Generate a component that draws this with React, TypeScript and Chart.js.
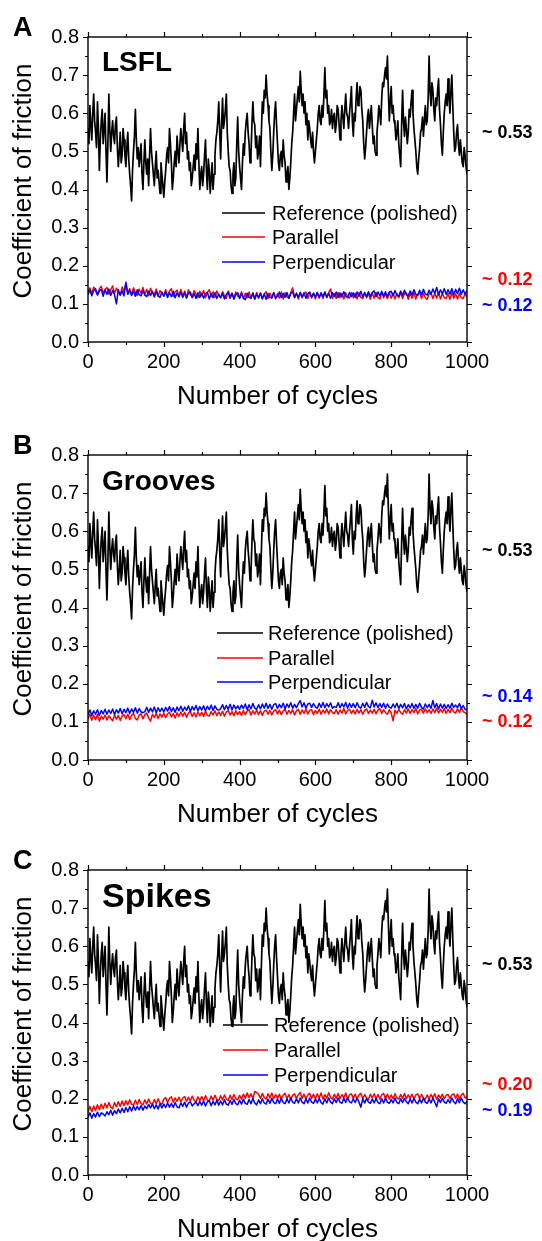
import React, { useEffect, useRef } from "react";
import { Chart, registerables } from "chart.js";
Chart.register(...registerables);

const FONT = "'Liberation Sans', Arial, Helvetica, sans-serif";
const REF_STEP = 2.5; // cycles between reference samples
const CYCLE_STEP = 5; // cycles between textured-sample values
const X_MIN = 0;
const X_MAX = 1000;
const Y_MIN = 0;
const Y_MAX = 0.8;
const SERIES_NAMES = ["Reference (polished)", "Parallel", "Perpendicular"];
const X_TITLE = "Number of cycles";
const Y_TITLE = "Coefficient of friction";

// Reference (polished) – same curve in all three panels, one value per 2.5 cycles
const REFERENCE = [
  0.56, 0.52, 0.62, 0.57, 0.53, 0.60, 0.65, 0.58, 0.55, 0.51, 0.63, 0.56, 0.45, 0.53, 0.58, 0.61, 0.52, 0.56, 0.60, 0.50,
  0.42, 0.52, 0.65, 0.56, 0.50, 0.55, 0.58, 0.54, 0.52, 0.57, 0.59, 0.51, 0.46, 0.50, 0.55, 0.47, 0.49, 0.56, 0.53, 0.49,
  0.46, 0.51, 0.55, 0.48, 0.44, 0.41, 0.37, 0.45, 0.50, 0.54, 0.61, 0.53, 0.48, 0.51, 0.46, 0.49, 0.52, 0.44, 0.40, 0.47,
  0.53, 0.47, 0.44, 0.48, 0.41, 0.49, 0.56, 0.50, 0.47, 0.44, 0.41, 0.46, 0.50, 0.43, 0.45, 0.42, 0.39, 0.47, 0.44, 0.41,
  0.38, 0.42, 0.45, 0.49, 0.51, 0.47, 0.56, 0.52, 0.47, 0.40, 0.43, 0.47, 0.50, 0.46, 0.54, 0.50, 0.47, 0.52, 0.56, 0.53,
  0.50, 0.56, 0.60, 0.52, 0.55, 0.48, 0.50, 0.45, 0.47, 0.41, 0.43, 0.46, 0.49, 0.45, 0.52, 0.48, 0.56, 0.47, 0.40, 0.44,
  0.46, 0.41, 0.44, 0.49, 0.53, 0.45, 0.40, 0.48, 0.45, 0.39, 0.43, 0.47, 0.40, 0.44, 0.49, 0.53, 0.55, 0.58, 0.63, 0.55,
  0.48, 0.57, 0.64, 0.56, 0.58, 0.61, 0.65, 0.55, 0.50, 0.46, 0.45, 0.41, 0.39, 0.44, 0.47, 0.41, 0.43, 0.52, 0.59, 0.50,
  0.46, 0.43, 0.40, 0.47, 0.52, 0.49, 0.55, 0.58, 0.60, 0.55, 0.52, 0.47, 0.49, 0.57, 0.63, 0.58, 0.57, 0.51, 0.54, 0.48,
  0.50, 0.54, 0.46, 0.55, 0.63, 0.60, 0.66, 0.64, 0.70, 0.65, 0.62, 0.58, 0.56, 0.50, 0.45, 0.49, 0.55, 0.60, 0.63, 0.57,
  0.52, 0.47, 0.45, 0.49, 0.50, 0.46, 0.53, 0.49, 0.47, 0.42, 0.44, 0.46, 0.40, 0.43, 0.47, 0.52, 0.55, 0.60, 0.65, 0.58,
  0.61, 0.64, 0.67, 0.63, 0.71, 0.66, 0.62, 0.65, 0.60, 0.63, 0.57, 0.60, 0.53, 0.58, 0.56, 0.53, 0.51, 0.55, 0.50, 0.47,
  0.50, 0.53, 0.56, 0.60, 0.62, 0.58, 0.57, 0.62, 0.59, 0.65, 0.72, 0.64, 0.66, 0.60, 0.62, 0.57, 0.58, 0.61, 0.56, 0.59,
  0.60, 0.55, 0.57, 0.62, 0.61, 0.57, 0.53, 0.58, 0.62, 0.59, 0.56, 0.61, 0.65, 0.60, 0.59, 0.56, 0.60, 0.63, 0.67, 0.58,
  0.54, 0.60, 0.58, 0.64, 0.68, 0.62, 0.63, 0.67, 0.66, 0.61, 0.58, 0.52, 0.48, 0.51, 0.55, 0.59, 0.61, 0.56, 0.59, 0.62,
  0.57, 0.52, 0.54, 0.50, 0.49, 0.55, 0.58, 0.62, 0.60, 0.57, 0.64, 0.68, 0.67, 0.70, 0.72, 0.69, 0.75, 0.66, 0.58, 0.63,
  0.67, 0.60, 0.62, 0.58, 0.57, 0.53, 0.55, 0.58, 0.52, 0.49, 0.46, 0.57, 0.66, 0.58, 0.54, 0.59, 0.56, 0.52, 0.55, 0.61,
  0.59, 0.63, 0.66, 0.60, 0.56, 0.53, 0.50, 0.46, 0.44, 0.48, 0.51, 0.55, 0.56, 0.59, 0.54, 0.58, 0.62, 0.57, 0.58, 0.64,
  0.75, 0.66, 0.62, 0.68, 0.66, 0.61, 0.58, 0.64, 0.62, 0.66, 0.69, 0.61, 0.57, 0.52, 0.49, 0.55, 0.60, 0.63, 0.65, 0.62,
  0.69, 0.64, 0.60, 0.66, 0.70, 0.62, 0.55, 0.50, 0.51, 0.55, 0.57, 0.52, 0.49, 0.53, 0.50, 0.47, 0.46, 0.51, 0.49, 0.46,
  0.44,
];

// Panel A – LSFL (one value per 5 cycles)
const PARALLEL_A = [
  0.130, 0.142, 0.126, 0.144, 0.133, 0.124, 0.140, 0.146, 0.128, 0.138,
  0.143, 0.125, 0.137, 0.147, 0.127, 0.141, 0.131, 0.123, 0.144, 0.132,
  0.152, 0.128, 0.140, 0.124, 0.142, 0.130, 0.122, 0.139, 0.127, 0.143,
  0.125, 0.138, 0.121, 0.141, 0.128, 0.124, 0.139, 0.120, 0.135, 0.127,
  0.122, 0.137, 0.120, 0.134, 0.140, 0.119, 0.131, 0.136, 0.121, 0.138,
  0.120, 0.134, 0.117, 0.137, 0.124, 0.119, 0.135, 0.126, 0.116, 0.133,
  0.121, 0.135, 0.116, 0.130, 0.137, 0.119, 0.132, 0.117, 0.134, 0.122,
  0.116, 0.132, 0.121, 0.114, 0.134, 0.119, 0.129, 0.115, 0.131, 0.120,
  0.117, 0.132, 0.113, 0.128, 0.116, 0.131, 0.114, 0.127, 0.112, 0.130,
  0.115, 0.129, 0.113, 0.126, 0.132, 0.114, 0.128, 0.117, 0.130, 0.113,
  0.127, 0.115, 0.131, 0.113, 0.129, 0.118, 0.114, 0.130, 0.142, 0.117,
  0.128, 0.113, 0.130, 0.116, 0.127, 0.131, 0.114, 0.129, 0.116, 0.128,
  0.113, 0.130, 0.116, 0.128, 0.114, 0.131, 0.117, 0.129, 0.139, 0.115,
  0.127, 0.114, 0.130, 0.116, 0.128, 0.113, 0.129, 0.118, 0.115, 0.130,
  0.116, 0.128, 0.113, 0.130, 0.117, 0.114, 0.129, 0.116, 0.127, 0.112,
  0.128, 0.115, 0.130, 0.117, 0.113, 0.129, 0.116, 0.127, 0.114, 0.130,
  0.115, 0.128, 0.113, 0.127, 0.116, 0.130, 0.114, 0.126, 0.129, 0.112,
  0.127, 0.115, 0.129, 0.113, 0.126, 0.130, 0.114, 0.128, 0.116, 0.112,
  0.126, 0.129, 0.114, 0.127, 0.115, 0.130, 0.113, 0.128, 0.116, 0.114,
  0.127, 0.112, 0.129, 0.115, 0.126, 0.113, 0.128, 0.116, 0.114, 0.127,
  0.118,
];
const PERPENDICULAR_A = [
  0.124, 0.137, 0.121, 0.135, 0.140, 0.123, 0.134, 0.138, 0.120, 0.136,
  0.125, 0.139, 0.122, 0.135, 0.124, 0.100, 0.137, 0.123, 0.134, 0.121,
  0.157, 0.125, 0.136, 0.122, 0.134, 0.120, 0.137, 0.124, 0.121, 0.135,
  0.123, 0.119, 0.134, 0.122, 0.133, 0.118, 0.132, 0.121, 0.117, 0.131,
  0.120, 0.132, 0.117, 0.130, 0.119, 0.133, 0.116, 0.129, 0.118, 0.131,
  0.117, 0.129, 0.115, 0.128, 0.131, 0.116, 0.127, 0.114, 0.129, 0.117,
  0.128, 0.115, 0.126, 0.130, 0.113, 0.127, 0.116, 0.129, 0.114, 0.126,
  0.116, 0.128, 0.113, 0.126, 0.130, 0.115, 0.127, 0.112, 0.125, 0.129,
  0.114, 0.127, 0.116, 0.111, 0.128, 0.117, 0.115, 0.129, 0.113, 0.126,
  0.116, 0.128, 0.114, 0.126, 0.112, 0.127, 0.117, 0.115, 0.129, 0.116,
  0.119, 0.131, 0.116, 0.128, 0.117, 0.130, 0.115, 0.127, 0.132, 0.116,
  0.128, 0.117, 0.130, 0.118, 0.129, 0.115, 0.127, 0.131, 0.117, 0.128,
  0.118, 0.130, 0.116, 0.129, 0.119, 0.131, 0.117, 0.128, 0.115, 0.130,
  0.119, 0.131, 0.117, 0.129, 0.118, 0.132, 0.120, 0.116, 0.130, 0.119,
  0.129, 0.117, 0.131, 0.120, 0.133, 0.118, 0.130, 0.119, 0.132, 0.120,
  0.130, 0.134, 0.119, 0.131, 0.121, 0.133, 0.120, 0.132, 0.118, 0.131,
  0.133, 0.121, 0.135, 0.123, 0.120, 0.134, 0.122, 0.136, 0.124, 0.121,
  0.134, 0.123, 0.137, 0.125, 0.122, 0.136, 0.124, 0.138, 0.126, 0.123,
  0.136, 0.125, 0.139, 0.127, 0.143, 0.124, 0.137, 0.126, 0.140, 0.125,
  0.137, 0.126, 0.140, 0.124, 0.138, 0.127, 0.141, 0.125, 0.137, 0.126,
  0.134,
];

// Panel B – Grooves
const PARALLEL_B = [
  0.108, 0.120, 0.104, 0.117, 0.106, 0.119, 0.102, 0.115, 0.107, 0.118,
  0.105, 0.116, 0.109, 0.103, 0.118, 0.107, 0.117, 0.104, 0.115, 0.119,
  0.108, 0.120, 0.106, 0.117, 0.122, 0.109, 0.105, 0.118, 0.121, 0.108,
  0.119, 0.123, 0.110, 0.102, 0.120, 0.111, 0.122, 0.109, 0.121, 0.112,
  0.123, 0.111, 0.121, 0.125, 0.113, 0.122, 0.110, 0.124, 0.114, 0.126,
  0.115, 0.125, 0.112, 0.123, 0.127, 0.114, 0.124, 0.113, 0.126, 0.116,
  0.125, 0.114, 0.128, 0.117, 0.115, 0.127, 0.118, 0.129, 0.116, 0.126,
  0.117, 0.128, 0.115, 0.126, 0.130, 0.118, 0.127, 0.116, 0.129, 0.119,
  0.127, 0.117, 0.130, 0.119, 0.128, 0.132, 0.118, 0.129, 0.120, 0.131,
  0.119, 0.129, 0.117, 0.128, 0.131, 0.120, 0.130, 0.118, 0.128, 0.132,
  0.121, 0.131, 0.119, 0.129, 0.133, 0.120, 0.130, 0.122, 0.132, 0.118,
  0.129, 0.133, 0.120, 0.131, 0.122, 0.134, 0.121, 0.130, 0.132, 0.119,
  0.130, 0.122, 0.133, 0.120, 0.131, 0.123, 0.134, 0.121, 0.132, 0.124,
  0.122, 0.132, 0.120, 0.131, 0.123, 0.135, 0.121, 0.130, 0.133, 0.122,
  0.131, 0.121, 0.133, 0.123, 0.132, 0.120, 0.130, 0.134, 0.122, 0.131,
  0.123, 0.133, 0.121, 0.131, 0.135, 0.122, 0.132, 0.124, 0.120, 0.132,
  0.123, 0.103, 0.131, 0.122, 0.133, 0.124, 0.120, 0.132, 0.123, 0.134,
  0.122, 0.132, 0.124, 0.135, 0.121, 0.131, 0.133, 0.123, 0.134, 0.124,
  0.132, 0.122, 0.134, 0.124, 0.136, 0.123, 0.133, 0.125, 0.135, 0.122,
  0.133, 0.124, 0.136, 0.126, 0.123, 0.134, 0.125, 0.137, 0.127, 0.124,
  0.120,
];
const PERPENDICULAR_B = [
  0.119, 0.131, 0.116, 0.129, 0.120, 0.132, 0.117, 0.130, 0.121, 0.133,
  0.120, 0.131, 0.122, 0.134, 0.119, 0.132, 0.123, 0.135, 0.121, 0.133,
  0.124, 0.136, 0.122, 0.134, 0.125, 0.137, 0.123, 0.135, 0.126, 0.124,
  0.127, 0.138, 0.125, 0.136, 0.126, 0.139, 0.124, 0.137, 0.127, 0.136,
  0.126, 0.138, 0.128, 0.140, 0.127, 0.137, 0.125, 0.139, 0.129, 0.141,
  0.128, 0.139, 0.130, 0.142, 0.127, 0.140, 0.131, 0.143, 0.129, 0.140,
  0.131, 0.142, 0.129, 0.141, 0.132, 0.144, 0.130, 0.142, 0.133, 0.131,
  0.134, 0.145, 0.132, 0.143, 0.133, 0.146, 0.131, 0.144, 0.134, 0.142,
  0.133, 0.144, 0.135, 0.147, 0.132, 0.145, 0.134, 0.148, 0.136, 0.133,
  0.145, 0.134, 0.147, 0.136, 0.149, 0.135, 0.146, 0.133, 0.145, 0.148,
  0.135, 0.146, 0.137, 0.149, 0.134, 0.147, 0.138, 0.150, 0.136, 0.146,
  0.137, 0.148, 0.156, 0.139, 0.150, 0.136, 0.147, 0.149, 0.138, 0.148,
  0.139, 0.136, 0.149, 0.138, 0.151, 0.137, 0.148, 0.139, 0.150, 0.136,
  0.140, 0.138, 0.150, 0.137, 0.148, 0.139, 0.151, 0.136, 0.149, 0.138,
  0.148, 0.137, 0.150, 0.139, 0.136, 0.149, 0.138, 0.151, 0.140, 0.137,
  0.157, 0.139, 0.150, 0.137, 0.148, 0.138, 0.149, 0.136, 0.147, 0.138,
  0.136, 0.147, 0.137, 0.149, 0.135, 0.146, 0.137, 0.148, 0.134, 0.145,
  0.137, 0.148, 0.135, 0.146, 0.136, 0.149, 0.138, 0.134, 0.147, 0.137,
  0.146, 0.135, 0.156, 0.137, 0.148, 0.134, 0.147, 0.136, 0.146, 0.135,
  0.145, 0.136, 0.149, 0.138, 0.144, 0.137, 0.148, 0.135, 0.143, 0.133,
  0.132,
];

// Panel C – Spikes
const PARALLEL_C = [
  0.164, 0.180, 0.166, 0.181, 0.169, 0.184, 0.171, 0.186, 0.174, 0.188,
  0.176, 0.190, 0.178, 0.174, 0.190, 0.179, 0.192, 0.180, 0.194, 0.182,
  0.195, 0.184, 0.197, 0.186, 0.183, 0.196, 0.185, 0.198, 0.187, 0.184,
  0.197, 0.186, 0.199, 0.188, 0.185, 0.198, 0.187, 0.200, 0.189, 0.186,
  0.199, 0.203, 0.190, 0.201, 0.205, 0.191, 0.202, 0.193, 0.204, 0.192,
  0.202, 0.206, 0.193, 0.204, 0.194, 0.207, 0.196, 0.192, 0.205, 0.195,
  0.206, 0.195, 0.208, 0.197, 0.194, 0.207, 0.196, 0.209, 0.198, 0.195,
  0.208, 0.197, 0.210, 0.199, 0.196, 0.209, 0.198, 0.211, 0.200, 0.197,
  0.209, 0.199, 0.212, 0.201, 0.215, 0.203, 0.213, 0.200, 0.219, 0.216,
  0.212, 0.201, 0.214, 0.203, 0.199, 0.213, 0.202, 0.215, 0.200, 0.211,
  0.201, 0.212, 0.199, 0.210, 0.214, 0.200, 0.211, 0.198, 0.209, 0.213,
  0.200, 0.211, 0.216, 0.201, 0.212, 0.199, 0.210, 0.214, 0.201, 0.212,
  0.200, 0.213, 0.202, 0.215, 0.199, 0.211, 0.201, 0.216, 0.203, 0.199,
  0.212, 0.201, 0.214, 0.200, 0.211, 0.202, 0.215, 0.199, 0.210, 0.213,
  0.201, 0.212, 0.199, 0.210, 0.214, 0.200, 0.211, 0.202, 0.198, 0.212,
  0.202, 0.213, 0.200, 0.211, 0.199, 0.210, 0.214, 0.201, 0.212, 0.199,
  0.210, 0.200, 0.213, 0.202, 0.199, 0.211, 0.201, 0.214, 0.200, 0.210,
  0.201, 0.212, 0.199, 0.210, 0.213, 0.200, 0.211, 0.202, 0.198, 0.210,
  0.200, 0.211, 0.202, 0.213, 0.199, 0.210, 0.201, 0.212, 0.200, 0.209,
  0.211, 0.200, 0.210, 0.213, 0.201, 0.212, 0.199, 0.210, 0.214, 0.202,
  0.206,
];
const PERPENDICULAR_C = [
  0.151, 0.163, 0.149, 0.161, 0.152, 0.165, 0.153, 0.163, 0.160, 0.155,
  0.166, 0.158, 0.170, 0.157, 0.169, 0.161, 0.173, 0.163, 0.175, 0.164,
  0.177, 0.166, 0.179, 0.168, 0.181, 0.170, 0.180, 0.171, 0.182, 0.170,
  0.181, 0.174, 0.185, 0.176, 0.186, 0.174, 0.184, 0.173, 0.187, 0.176,
  0.186, 0.177, 0.189, 0.178, 0.188, 0.177, 0.190, 0.179, 0.176, 0.189,
  0.180, 0.191, 0.178, 0.189, 0.192, 0.181, 0.187, 0.191, 0.182, 0.193,
  0.183, 0.194, 0.181, 0.192, 0.195, 0.182, 0.193, 0.184, 0.196, 0.183,
  0.194, 0.184, 0.197, 0.186, 0.183, 0.196, 0.185, 0.198, 0.187, 0.184,
  0.196, 0.186, 0.199, 0.188, 0.185, 0.198, 0.187, 0.200, 0.189, 0.184,
  0.197, 0.187, 0.200, 0.189, 0.186, 0.199, 0.188, 0.201, 0.190, 0.187,
  0.199, 0.188, 0.201, 0.190, 0.187, 0.200, 0.189, 0.202, 0.191, 0.188,
  0.200, 0.189, 0.202, 0.191, 0.187, 0.200, 0.189, 0.202, 0.191, 0.188,
  0.199, 0.189, 0.201, 0.190, 0.186, 0.200, 0.189, 0.202, 0.191, 0.187,
  0.200, 0.190, 0.202, 0.191, 0.188, 0.201, 0.190, 0.203, 0.192, 0.189,
  0.200, 0.190, 0.202, 0.191, 0.178, 0.200, 0.189, 0.201, 0.191, 0.188,
  0.199, 0.189, 0.201, 0.190, 0.187, 0.200, 0.189, 0.202, 0.191, 0.188,
  0.198, 0.189, 0.202, 0.190, 0.187, 0.200, 0.190, 0.201, 0.192, 0.187,
  0.200, 0.189, 0.201, 0.191, 0.187, 0.199, 0.189, 0.202, 0.191, 0.188,
  0.199, 0.189, 0.202, 0.191, 0.179, 0.200, 0.190, 0.201, 0.191, 0.188,
  0.198, 0.189, 0.202, 0.192, 0.187, 0.200, 0.190, 0.202, 0.191, 0.187,
  0.193,
];

// Approximate-value annotations on the right
const NOTE_REF = "~ 0.53";
const NOTES_A = ["~ 0.12", "~ 0.12"]; // parallel, perpendicular
const NOTES_B = ["~ 0.12", "~ 0.14"];
const NOTES_C = ["~ 0.20", "~ 0.19"];

const COLORS = ["#000000", "#ff0000", "#0000ff"];
const PLOT = { left: 88, right: 467, top: 37, bottom: 342 };
const W = 542;

type Panel = {
  top: number;
  height: number;
  letter: string;
  name: string;
  nameSize: number;
  nameBase: number;
  legendRows: number[];
  legendX: [number, number, number];
  parallel: number[];
  perpendicular: number[];
  notes: string[];
  noteY: [number, number, number]; // ref, parallel, perpendicular
};

const PANELS: Panel[] = [
  {
    top: 0, height: 418, letter: "A", name: "LSFL", nameSize: 28, nameBase: 71,
    legendRows: [213, 237, 262], legendX: [222, 265, 272],
    parallel: PARALLEL_A, perpendicular: PERPENDICULAR_A, notes: NOTES_A,
    noteY: [133, 280, 306],
  },
  {
    top: 418, height: 415, letter: "B", name: "Grooves", nameSize: 28, nameBase: 72,
    legendRows: [215, 240, 264], legendX: [217, 263, 268],
    parallel: PARALLEL_B, perpendicular: PERPENDICULAR_B, notes: NOTES_B,
    noteY: [133, 304, 279],
  },
  {
    top: 833, height: 408, letter: "C", name: "Spikes", nameSize: 34, nameBase: 74,
    legendRows: [192, 217, 242], legendX: [223, 268, 274],
    parallel: PARALLEL_C, perpendicular: PERPENDICULAR_C, notes: NOTES_C,
    noteY: [132, 252, 278],
  },
];

const toPoints = (vals: number[], step: number) => vals.map((v, i) => ({ x: i * step, y: v }));

function PanelChart({ p }: { p: Panel }) {
  const ref = useRef<HTMLCanvasElement | null>(null);
  useEffect(() => {
    if (!ref.current) return;
    const decor = {
      id: "decor",
      afterDatasetsDraw(chart: any) {
        const ctx = chart.ctx;
        const xs = chart.scales.x;
        const ys = chart.scales.y;
        const ca = chart.chartArea;
        ctx.save();
        // frame
        ctx.strokeStyle = "#000";
        ctx.lineWidth = 1.4;
        ctx.strokeRect(ca.left, ca.top, ca.right - ca.left, ca.bottom - ca.top);
        // ticks
        ctx.lineWidth = 1.2;
        ctx.beginPath();
        for (let v = X_MIN; v <= X_MAX; v += 100) {
          const px = Math.round(xs.getPixelForValue(v)) + 0.5;
          const len = v % 200 === 0 ? 5 : 3;
          ctx.moveTo(px, ca.bottom); ctx.lineTo(px, ca.bottom + len);
          ctx.moveTo(px, ca.top); ctx.lineTo(px, ca.top - len);
        }
        for (let k = 0; k <= 16; k++) {
          const v = k * 0.05;
          const py = Math.round(ys.getPixelForValue(v)) + 0.5;
          const len = k % 2 === 0 ? 5 : 3;
          ctx.moveTo(ca.left, py); ctx.lineTo(ca.left - len, py);
          ctx.moveTo(ca.right, py); ctx.lineTo(ca.right + len, py);
        }
        ctx.stroke();

        ctx.fillStyle = "#000";
        // axis titles
        ctx.font = `26px ${FONT}`;
        ctx.textAlign = "center";
        ctx.textBaseline = "alphabetic";
        ctx.fillText(X_TITLE, (ca.left + ca.right) / 2, 404);
        ctx.save();
        ctx.translate(31, 181);
        ctx.rotate(-Math.PI / 2);
        ctx.fillText(Y_TITLE, 0, 0);
        ctx.restore();

        // panel letter + name
        ctx.textAlign = "left";
        ctx.font = `bold 27px ${FONT}`;
        ctx.fillText(p.letter, 13, 36);
        ctx.font = `bold ${p.nameSize}px ${FONT}`;
        ctx.fillText(p.name, 102, p.nameBase);

        // legend
        ctx.font = `20px ${FONT}`;
        ctx.textBaseline = "middle";
        chart.data.datasets.forEach((ds: any, i: number) => {
          const y = p.legendRows[i];
          ctx.strokeStyle = ds.borderColor;
          ctx.lineWidth = 1.5;
          ctx.beginPath();
          ctx.moveTo(p.legendX[0], y);
          ctx.lineTo(p.legendX[1], y);
          ctx.stroke();
          ctx.fillStyle = "#000";
          ctx.fillText(ds.label, p.legendX[2], y + 1);
        });

        // right-hand notes
        ctx.font = `bold 18px ${FONT}`;
        const texts = [NOTE_REF, p.notes[0], p.notes[1]];
        texts.forEach((t, i) => {
          ctx.fillStyle = COLORS[i];
          ctx.fillText(t, 482, p.noteY[i]);
        });
        ctx.restore();
      },
    };
    const chart = new Chart(ref.current, {
      type: "line",
      data: {
        datasets: [
          { label: SERIES_NAMES[0], data: toPoints(REFERENCE, REF_STEP), borderColor: COLORS[0], order: 2, borderWidth: 1.7 },
          { label: SERIES_NAMES[1], data: toPoints(p.parallel, CYCLE_STEP), borderColor: COLORS[1], order: 1, borderWidth: 1.5 },
          { label: SERIES_NAMES[2], data: toPoints(p.perpendicular, CYCLE_STEP), borderColor: COLORS[2], order: 0, borderWidth: 1.5 },
        ].map((d) => ({
          ...d,
          pointRadius: 0,
          tension: 0,
          fill: false,
          borderJoinStyle: "round" as const,
        })),
      },
      options: {
        responsive: false,
        animation: false,
        events: [],
        layout: { padding: { left: 0, right: W - PLOT.right, top: PLOT.top, bottom: 0 } },
        plugins: { legend: { display: false }, tooltip: { enabled: false }, title: { display: false } },
        scales: {
          x: {
            type: "linear",
            position: "bottom",
            min: X_MIN,
            max: X_MAX,
            grid: { display: false, drawTicks: false },
            border: { display: false },
            ticks: {
              stepSize: 200,
              autoSkip: false,
              maxRotation: 0,
              padding: 8,
              color: "#000",
              font: { family: FONT, size: 20 },
              callback: (v: any) => String(v),
            },
            afterFit: (s: any) => { s.height = p.height - PLOT.bottom; },
          },
          y: {
            type: "linear",
            position: "left",
            min: Y_MIN,
            max: Y_MAX,
            grid: { display: false, drawTicks: false },
            border: { display: false },
            ticks: {
              stepSize: 0.1,
              padding: 9,
              color: "#000",
              font: { family: FONT, size: 20 },
              callback: (v: any) => Number(v).toFixed(1),
            },
            afterFit: (s: any) => { s.width = PLOT.left; },
          },
        },
      },
      plugins: [decor],
    });
    return () => chart.destroy();
  }, [p]);
  return (
    <canvas
      ref={ref}
      width={W}
      height={p.height}
      style={{ position: "absolute", left: 0, top: p.top, width: W, height: p.height }}
    />
  );
}

export default function App() {
  return (
    <div style={{ position: "absolute", left: 0, top: 0, width: W, height: 1241, background: "#fff" }}>
      {PANELS.map((p) => (
        <PanelChart key={p.letter} p={p} />
      ))}
    </div>
  );
}
